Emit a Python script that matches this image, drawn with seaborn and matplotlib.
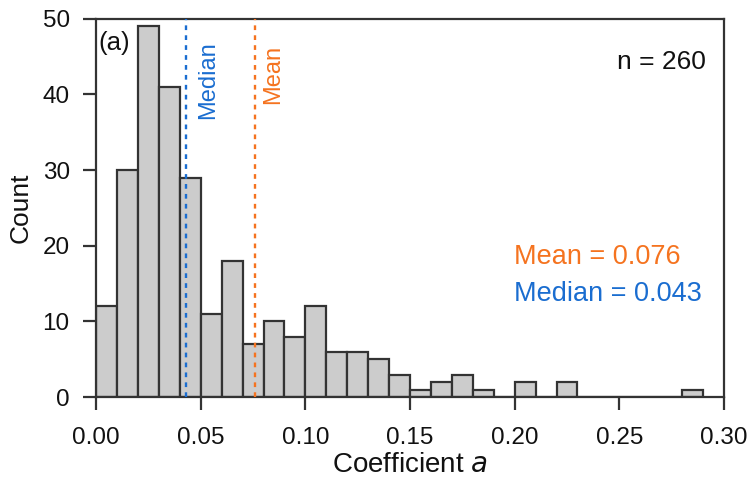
import numpy as np
import pandas as pd
import matplotlib
matplotlib.use("Agg")
import matplotlib.pyplot as plt
import seaborn as sns

# Data (bin width 0.01)
bin_left = [0.00, 0.01, 0.02, 0.03, 0.04, 0.05, 0.06, 0.07, 0.08, 0.09,
            0.10, 0.11, 0.12, 0.13, 0.14, 0.15, 0.16, 0.17, 0.18, 0.19,
            0.20, 0.21, 0.22, 0.23, 0.24, 0.25, 0.26, 0.27, 0.28]
counts = [12, 30, 49, 41, 29, 11, 18, 7, 10, 8,
          12, 6, 6, 5, 3, 1, 2, 3, 1, 0,
          2, 0, 2, 0, 0, 0, 0, 0, 1]
mean_val = 0.076
median_val = 0.043
n_total = 260
x_ticks = [0.00, 0.05, 0.10, 0.15, 0.20, 0.25, 0.30]
y_ticks = [0, 10, 20, 30, 40, 50]

sns.set_theme(style="ticks")
plt.rcParams['font.family'] = ['Liberation Sans', 'DejaVu Sans']

df = pd.DataFrame({"a": np.array(bin_left) + 0.005, "count": counts})

fig = plt.figure(figsize=(7.51, 4.88), dpi=100)
ax = fig.add_axes([0.128, 0.186, 0.836, 0.776])

sns.histplot(data=df, x="a", weights="count", binwidth=0.01, binrange=(0.0, 0.29),
             ax=ax, color="#cccccc", edgecolor="#333333", linewidth=1.6, alpha=1.0)

blue = "#1a6dd0"
orange = "#f5731f"
ax.axvline(median_val, color=blue, linestyle=(0, (2, 2.2)), linewidth=1.7, zorder=5)
ax.axvline(mean_val, color=orange, linestyle=(0, (2, 2.2)), linewidth=1.7, zorder=5)

ax.set_xlim(0, 0.30)
ax.set_ylim(0, 50)
ax.set_xticks(x_ticks)
ax.set_xticklabels([f"{t:.2f}" for t in x_ticks])
ax.set_yticks(y_ticks)

for s in ax.spines.values():
    s.set_visible(True)
    s.set_linewidth(1.6)
    s.set_color("#333333")
ax.tick_params(direction="out", length=9.5, width=1.6, color="#333333",
               labelsize=17.5, labelcolor="#111111")
ax.tick_params(axis="x", pad=12)
ax.tick_params(axis="y", pad=9.5)

ax.set_xlabel("Coefficient $\\mathit{a}$", fontsize=20, color="#111111", labelpad=2)
ax.set_ylabel("Count", fontsize=19, color="#111111", labelpad=7)

ax.text(0.0012, 48.3, "(a)", fontsize=18.5, va="top", ha="left", color="#111111")
ax.text(0.2914, 44.3, f"n = {n_total}", fontsize=19, va="center", ha="right", color="#111111")
ax.text(0.1995, 18.5, f"Mean = {mean_val:.3f}", fontsize=19.5, va="center", ha="left", color=orange)
ax.text(0.1995, 13.6, f"Median = {median_val:.3f}", fontsize=19.5, va="center", ha="left", color=blue)
ax.text(median_val + 0.0105, 47.0, "Median", rotation=90, fontsize=17,
        va="top", ha="center", color=blue)
ax.text(mean_val + 0.0085, 46.5, "Mean", rotation=90, fontsize=17,
        va="top", ha="center", color=orange)

fig.savefig("out.png", dpi=100)
